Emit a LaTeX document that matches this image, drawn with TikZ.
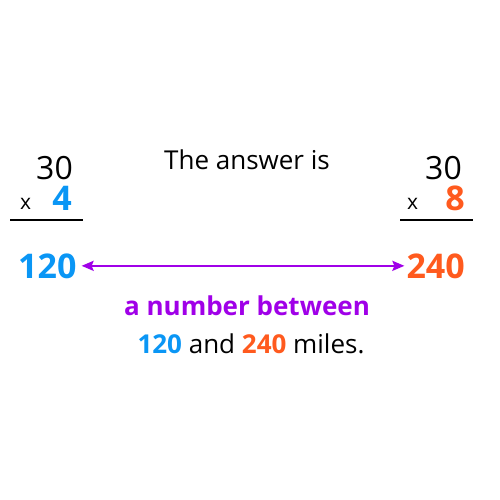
\documentclass[tikz,border=0pt]{standalone}
\usepackage{fontspec}
\setmainfont{Open Sans}
\usetikzlibrary{arrows.meta}

\definecolor{numblue}{HTML}{0A96F5}
\definecolor{numorange}{HTML}{FF5A1E}
\definecolor{rangepurple}{HTML}{A000E8}

\tikzset{
  plain/.style={inner sep=0pt, font=\fontsize{32}{38}\selectfont},
  times/.style={inner sep=0pt, font=\fontsize{21}{26}\selectfont},
  factor/.style={inner sep=0pt, font=\fontsize{34}{40}\selectfont\bfseries},
  words/.style={inner sep=0pt, font=\fontsize{26}{30}\selectfont},
  rule/.style={line width=2pt},
}

\begin{document}
\begin{tikzpicture}[x=1pt,y=-1pt]

    \useasboundingbox (0,0) rectangle (500,500);

    % Left product
    \node[plain, anchor=base east] (ltop) at (73,179) {30};
    \node[times, anchor=base west] (lx) at (20,209) {x};
    \node[factor, anchor=base east, numblue] (lfac) at (72,210) {4};
    \coordinate (lrs) at (10,220);
    \coordinate (lre) at (83,220);
    \draw[rule] (lrs) -- (lre);
    \node[factor, anchor=base west, numblue] (n120) at (18,278) {120};

    % Right product
    \node[plain, anchor=base east] (rtop) at (462,179) {30};
    \node[times, anchor=base west] (rx) at (407,209) {x};
    \node[factor, anchor=base east, numorange] (rfac) at (465,210) {8};
    \coordinate (rrs) at (400,220);
    \coordinate (rre) at (473,220);
    \draw[rule] (rrs) -- (rre);
    \node[factor, anchor=base east, numorange] (n240) at (465,278) {240};

    % Range arrow
    \draw[rangepurple, line width=2pt,
          {Stealth[length=12pt,width=10pt,inset=2pt]}-{Stealth[length=12pt,width=10pt,inset=2pt]}]
          ([xshift=5pt]n120.east) -- ([xshift=-2pt]n240.west);

    % Texts
    \node[words, anchor=base] (head) at (247,169) {The answer is};
    \node[words, anchor=base, rangepurple, font=\fontsize{26}{30}\selectfont\bfseries] (between) at (247,315) {a number between};
    \node[words, anchor=base] (miles) at (251,353) {\textbf{\textcolor{numblue}{120}} and \textbf{\textcolor{numorange}{240}} miles.};

\end{tikzpicture}
\end{document}
